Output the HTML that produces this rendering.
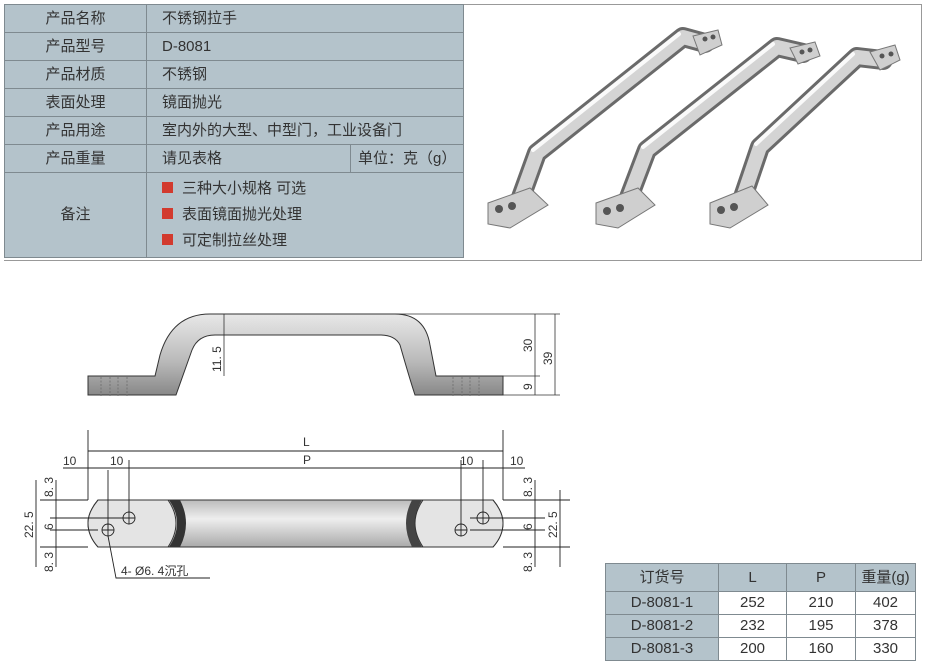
<!DOCTYPE html>
<html><head><meta charset="utf-8"><style>
body{margin:0;background:#fff;width:925px;height:664px;overflow:hidden;position:relative;font-family:"Liberation Sans","Noto Sans CJK SC",sans-serif;color:#333}
.t{position:absolute;border-collapse:collapse;background:#b4c3cb;font-size:15px}
.t td{border:1px solid #7f8a90;padding:0;height:27px;line-height:18px}
.b td{height:22px;line-height:20px}
</style></head><body>
<div style="position:absolute;left:4px;top:4px;width:917px;height:255px;border:1px solid #999;border-left:none"></div>
<table class="t" style="left:4px;top:4px;width:460px">
<tr><td style="width:141px;text-align:center">产品名称</td><td colspan="2" style="padding-left:15px">不锈钢拉手</td></tr>
<tr><td style="text-align:center">产品型号</td><td colspan="2" style="padding-left:15px">D-8081</td></tr>
<tr><td style="text-align:center">产品材质</td><td colspan="2" style="padding-left:15px">不锈钢</td></tr>
<tr><td style="text-align:center">表面处理</td><td colspan="2" style="padding-left:15px">镜面抛光</td></tr>
<tr><td style="text-align:center">产品用途</td><td colspan="2" style="padding-left:15px">室内外的大型、中型门，工业设备门</td></tr>
<tr><td style="text-align:center">产品重量</td><td style="padding-left:15px;width:188px">请见表格</td><td style="padding-left:7px">单位：克（g）</td></tr>
<tr><td style="text-align:center;height:84px">备注</td><td colspan="2" style="padding-left:15px;line-height:26px">
<span style="display:inline-block;width:11px;height:11px;background:#d23a2e;margin-right:9px"></span>三种大小规格 可选<br>
<span style="display:inline-block;width:11px;height:11px;background:#d23a2e;margin-right:9px"></span>表面镜面抛光处理<br>
<span style="display:inline-block;width:11px;height:11px;background:#d23a2e;margin-right:9px"></span>可定制拉丝处理</td></tr>
</table>

<svg style="position:absolute;left:0;top:0" width="925" height="664">
<!-- photo handles -->
<g fill="none" stroke-linecap="round" stroke-linejoin="round">
<path d="M520 200 L537 153 L683 37 L705 43" stroke="#6a6a6a" stroke-width="20"/>
<path d="M520 200 L537 153 L683 37 L705 43" stroke="#d4d4d4" stroke-width="14"/>
<path d="M533 150 L679 34" stroke="#fafafa" stroke-width="4"/>
<path d="M628 200 L647 150 L777 47 L803 53" stroke="#6a6a6a" stroke-width="20"/>
<path d="M628 200 L647 150 L777 47 L803 53" stroke="#d4d4d4" stroke-width="14"/>
<path d="M643 147 L773 44" stroke="#fafafa" stroke-width="4"/>
<path d="M742 200 L760 147 L857 57 L883 60" stroke="#6a6a6a" stroke-width="20"/>
<path d="M742 200 L760 147 L857 57 L883 60" stroke="#d4d4d4" stroke-width="14"/>
<path d="M756 144 L853 54" stroke="#fafafa" stroke-width="4"/>
</g>
<g fill="#cfcfcf" stroke="#777">
<path d="M488 203 L530 188 L548 205 L510 228 L488 224Z"/>
<path d="M596 203 L638 188 L655 205 L618 228 L596 224Z"/>
<path d="M710 203 L752 186 L768 205 L730 228 L710 224Z"/>
<path d="M693 36 L718 30 L722 45 L700 55Z"/>
<path d="M790 48 L815 42 L820 56 L798 64Z"/>
<path d="M870 52 L895 45 L900 60 L880 70Z"/>
</g>
<g fill="#555"><circle cx="499" cy="209" r="4"/><circle cx="512" cy="206" r="4"/><circle cx="607" cy="211" r="4"/><circle cx="620" cy="208" r="4"/><circle cx="721" cy="210" r="4"/><circle cx="734" cy="207" r="4"/>
<circle cx="705" cy="39" r="2.5"/><circle cx="713" cy="37" r="2.5"/><circle cx="802" cy="52" r="2.5"/><circle cx="810" cy="50" r="2.5"/><circle cx="882" cy="56" r="2.5"/><circle cx="891" cy="54" r="2.5"/></g>
<defs>
<linearGradient id="sv" x1="0" y1="0" x2="0" y2="1"><stop offset="0" stop-color="#e8e8e8"/><stop offset=".6" stop-color="#b8b8b8"/><stop offset="1" stop-color="#888"/></linearGradient>
<linearGradient id="pv" x1="0" y1="0" x2="0" y2="1"><stop offset="0" stop-color="#bbb"/><stop offset=".4" stop-color="#eee"/><stop offset="1" stop-color="#aaa"/></linearGradient>
</defs>

<!-- side view -->
<path d="M88 376 L155 376 L160 355 Q172 314 210 314 L395 314 Q425 314 430 345 L436 376 L503 376 L503 395 L415 395 Q410 380 400 345 Q395 335 380 335 L215 335 Q198 335 192 350 L176 395 L88 395Z" fill="url(#sv)" stroke="#333" stroke-width="1"/>
<g stroke="#666" stroke-width=".7" stroke-dasharray="2,1.5" fill="none">
<path d="M101 377V396M110 377V396M118 377V396M127 377V396M453 377V396M462 377V396M470 377V396M479 377V396"/></g>
<g stroke="#333" stroke-width=".8" fill="none">
<path d="M395 314H560M503 395H560M503 376H540M224 314V376M535 314V395M555 314V395"/></g>
<g font-size="12" fill="#333">
<text transform="translate(532 352) rotate(-90)">30</text>
<text transform="translate(552 365) rotate(-90)">39</text>
<text transform="translate(532 390) rotate(-90)">9</text>
<text transform="translate(221 372) rotate(-90)">11. 5</text>
</g>

<!-- plan view -->
<path d="M98 500 L493 500 Q503 512 503 523 Q503 536 493 547 L98 547 Q88 536 88 523 Q88 512 98 500Z" fill="url(#pv)" stroke="#333"/>
<path d="M169 500 Q185 523 169 547 L180 547 Q192 523 180 500Z" fill="#333"/>
<path d="M422 500 Q408 523 422 547 L412 547 Q400 523 412 500Z" fill="#444"/>
<path d="M98 500 L168 500 Q184 523 168 547 L98 547 Q88 536 88 523 Q88 512 98 500Z" fill="#e4e4e4" stroke="#333"/>
<path d="M493 500 L423 500 Q407 523 423 547 L493 547 Q503 536 503 523 Q503 512 493 500Z" fill="#e4e4e4" stroke="#333"/>
<g stroke="#222" stroke-width=".9" fill="none">
<circle cx="129" cy="518" r="6"/><circle cx="108" cy="530" r="6"/><circle cx="483" cy="518" r="6"/><circle cx="461" cy="530" r="6"/>
<path d="M123 518h12M129 512v12M102 530h12M108 524v12M477 518h12M483 512v12M455 530h12M461 524v12"/>
<path d="M88 430V500M503 430V500M108 470V530M129 460V512M461 460V524M483 460V512"/>
<path d="M88 451H503M63 468H88M88 468H129M129 468H461M461 468H483M483 468H525"/>
<path d="M40 500H88M40 547H88M50 518H125M50 530H98M503 500H570M503 547H570M470 518H545M470 530H545"/>
<path d="M36 480V567M56 480V567M535 480V567M560 490V567"/>
<path d="M108 536L116 578H210"/>
</g>
<g font-size="12" fill="#333">
<text x="303" y="446">L</text><text x="303" y="464">P</text>
<text x="63" y="465">10</text><text x="110" y="465">10</text><text x="460" y="465">10</text><text x="510" y="465">10</text>
<text transform="translate(53 497) rotate(-90)">8. 3</text>
<text transform="translate(53 572) rotate(-90)">8. 3</text>
<text transform="translate(33 538) rotate(-90)">22. 5</text>
<text transform="translate(53 530) rotate(-90)">6</text>
<text transform="translate(532 497) rotate(-90)">8. 3</text>
<text transform="translate(532 572) rotate(-90)">8. 3</text>
<text transform="translate(557 538) rotate(-90)">22. 5</text>
<text transform="translate(532 530) rotate(-90)">6</text>
<text x="121" y="575">4- Ø6. 4沉孔</text>
</g>
</svg>

<table class="t b" style="left:605px;top:563px;width:311px;font-size:15px;text-align:center">
<tr><td style="width:112px;height:27px">订货号</td><td style="width:67px">L</td><td style="width:68px">P</td><td>重量(g)</td></tr>
<tr><td>D-8081-1</td><td style="background:#fff">252</td><td style="background:#fff">210</td><td style="background:#fff">402</td></tr>
<tr><td>D-8081-2</td><td style="background:#fff">232</td><td style="background:#fff">195</td><td style="background:#fff">378</td></tr>
<tr><td>D-8081-3</td><td style="background:#fff">200</td><td style="background:#fff">160</td><td style="background:#fff">330</td></tr>
</table>
</body></html>
